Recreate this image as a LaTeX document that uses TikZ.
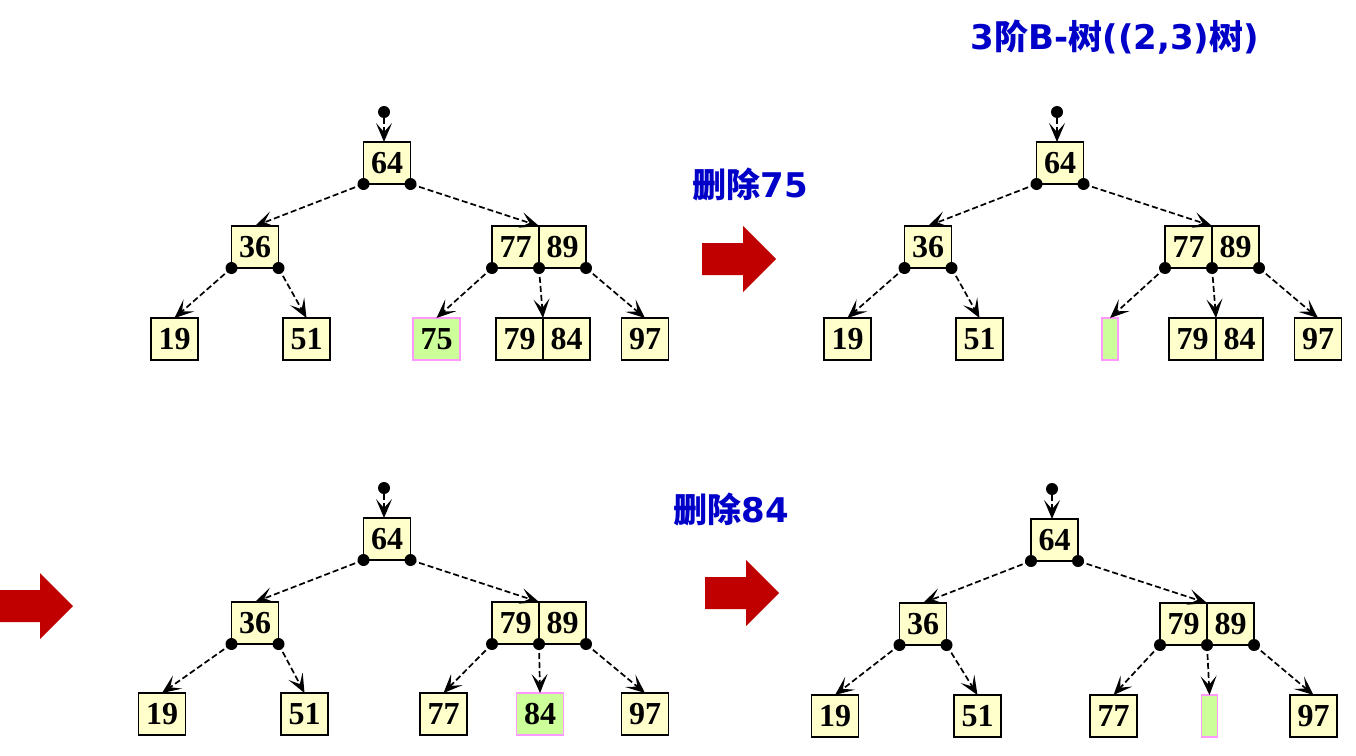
\documentclass[tikz,border=0pt]{standalone}
\usepackage{fontspec}
\setmainfont{DejaVu Sans}
\newfontfamily\keyfont{Liberation Serif}
\newfontfamily\cjkfont{Noto Sans CJK SC}
\newcommand\zh[1]{{\cjkfont\bfseries #1}}
\usetikzlibrary{arrows.meta,positioning}
\definecolor{keyfill}{HTML}{FFFFCC}
\definecolor{gonefill}{HTML}{CCFF99}
\definecolor{goneline}{HTML}{FF99FF}
\definecolor{titleblue}{RGB}{0,0,200}
\definecolor{arrowred}{RGB}{192,0,0}
\tikzset{
  key/.style={draw, fill=keyfill, line width=1.3pt, outer sep=0pt, inner sep=0pt,
    minimum width=47pt, minimum height=42pt,
    font=\keyfont\bfseries\fontsize{32}{32}\selectfont},
  gone/.style={key, draw=goneline, fill=gonefill},
  hole/.style={gone, minimum width=16pt},
  ptr/.style={dashed, dash pattern=on 6pt off 3pt, line width=1.7pt,
    -{Stealth[length=19pt, width=16pt, inset=9pt]}},
  dot/.style={circle, fill=black, inner sep=0pt, minimum size=12pt},
  caption/.style={text=titleblue, font=\bfseries\fontsize{34}{34}\selectfont},
  bigarrow/.style={fill=arrowred}
}
\begin{document}
\begin{tikzpicture}[x=1pt, y=-1pt]
\useasboundingbox (0,0) rectangle (1356,755);
\node[caption] (title) at (1115,37) {3\zh{阶}B-\zh{树}((2,3)\zh{树})};
\node[caption] (del75) at (750,185) {\zh{删除}75};
\node[caption] (del84) at (731,510) {\zh{删除}84};
\fill[bigarrow, shift={(702,259)}] (0,-16) -- (41,-16) -- (41,-33) -- (74,0) -- (41,33) -- (41,16) -- (0,16) -- cycle;
\fill[bigarrow, shift={(-1,606)}] (0,-16) -- (41,-16) -- (41,-33) -- (74,0) -- (41,33) -- (41,16) -- (0,16) -- cycle;
\fill[bigarrow, shift={(705,593)}] (0,-16) -- (41,-16) -- (41,-33) -- (74,0) -- (41,33) -- (41,16) -- (0,16) -- cycle;
% before deleting 75
\node[key] (a64) at (387,163) {64};
\node[key] (a36) at (255,247) {36};
\node[key] (a77) at (515.5,247) {77};
\node[key, right=0pt of a77] (a89) {89};
\node[key] (a19) at (174.5,339) {19};
\node[key] (a51) at (306.5,339) {51};
\node[gone] (a75) at (436.5,339) {75};
\node[key] (a79) at (519.5,339) {79};
\node[key, right=0pt of a79] (a84) {84};
\node[key] (a97) at (645,339) {97};
\node[dot] (aroot) at (384,112) {};
\draw[ptr] (aroot) -- (aroot |- a64.north);
\draw[ptr] (a64.south west) -- (a36.north);
\draw[ptr] (a64.south east) -- (a77.north east);
\draw[ptr] (a36.south west) -- (a19.north);
\draw[ptr] (a36.south east) -- (a51.north);
\draw[ptr] (a77.south west) -- (a75.north);
\draw[ptr] (a77.south east) -- (a79.north east);
\draw[ptr] (a89.south east) -- (a97.north);
\foreach \c in {a64.south west, a64.south east, a36.south west, a36.south east,
    a77.south west, a77.south east, a89.south east}
  \node[dot] at (\c) {};
% after deleting 75
\node[key] (b64) at (1060,163) {64};
\node[key] (b36) at (928,247) {36};
\node[key] (b77) at (1188.5,247) {77};
\node[key, right=0pt of b77] (b89) {89};
\node[key] (b19) at (847.5,339) {19};
\node[key] (b51) at (979.5,339) {51};
\node[hole] (bgap) at (1110,339) {};
\node[key] (b79) at (1192.5,339) {79};
\node[key, right=0pt of b79] (b84) {84};
\node[key] (b97) at (1318,339) {97};
\node[dot] (broot) at (1057,112) {};
\draw[ptr] (broot) -- (broot |- b64.north);
\draw[ptr] (b64.south west) -- (b36.north);
\draw[ptr] (b64.south east) -- (b77.north east);
\draw[ptr] (b36.south west) -- (b19.north);
\draw[ptr] (b36.south east) -- (b51.north);
\draw[ptr] (b77.south west) -- (bgap.north);
\draw[ptr] (b77.south east) -- (b79.north east);
\draw[ptr] (b89.south east) -- (b97.north);
\foreach \c in {b64.south west, b64.south east, b36.south west, b36.south east,
    b77.south west, b77.south east, b89.south east}
  \node[dot] at (\c) {};
% before deleting 84
\node[key] (c64) at (387,539) {64};
\node[key] (c36) at (255,623) {36};
\node[key] (c79) at (515.5,623) {79};
\node[key, right=0pt of c79] (c89) {89};
\node[key] (c19) at (162,714) {19};
\node[key] (c51) at (304.5,714) {51};
\node[key] (c77) at (443.5,714) {77};
\node[gone] (c84) at (540,714) {84};
\node[key] (c97) at (645,714) {97};
\node[dot] (croot) at (384,488) {};
\draw[ptr] (croot) -- (croot |- c64.north);
\draw[ptr] (c64.south west) -- (c36.north);
\draw[ptr] (c64.south east) -- (c79.north east);
\draw[ptr] (c36.south west) -- (c19.north);
\draw[ptr] (c36.south east) -- (c51.north);
\draw[ptr] (c79.south west) -- (c77.north);
\draw[ptr] (c79.south east) -- (c84.north);
\draw[ptr] (c89.south east) -- (c97.north);
\foreach \c in {c64.south west, c64.south east, c36.south west, c36.south east,
    c79.south west, c79.south east, c89.south east}
  \node[dot] at (\c) {};
% after deleting 84
\node[key] (d64) at (1054.5,540) {64};
\node[key] (d36) at (923,624) {36};
\node[key] (d79) at (1183.5,624) {79};
\node[key, right=0pt of d79] (d89) {89};
\node[key] (d19) at (835,716) {19};
\node[key] (d51) at (977.5,716) {51};
\node[key] (d77) at (1113.5,716) {77};
\node[hole] (dgap) at (1209.5,716) {};
\node[key] (d97) at (1313.5,716) {97};
\node[dot] (droot) at (1052,489) {};
\draw[ptr] (droot) -- (droot |- d64.north);
\draw[ptr] (d64.south west) -- (d36.north);
\draw[ptr] (d64.south east) -- (d79.north east);
\draw[ptr] (d36.south west) -- (d19.north);
\draw[ptr] (d36.south east) -- (d51.north);
\draw[ptr] (d79.south west) -- (d77.north);
\draw[ptr] (d79.south east) -- (dgap.north);
\draw[ptr] (d89.south east) -- (d97.north);
\foreach \c in {d64.south west, d64.south east, d36.south west, d36.south east,
    d79.south west, d79.south east, d89.south east}
  \node[dot] at (\c) {};
\end{tikzpicture}
\end{document}
